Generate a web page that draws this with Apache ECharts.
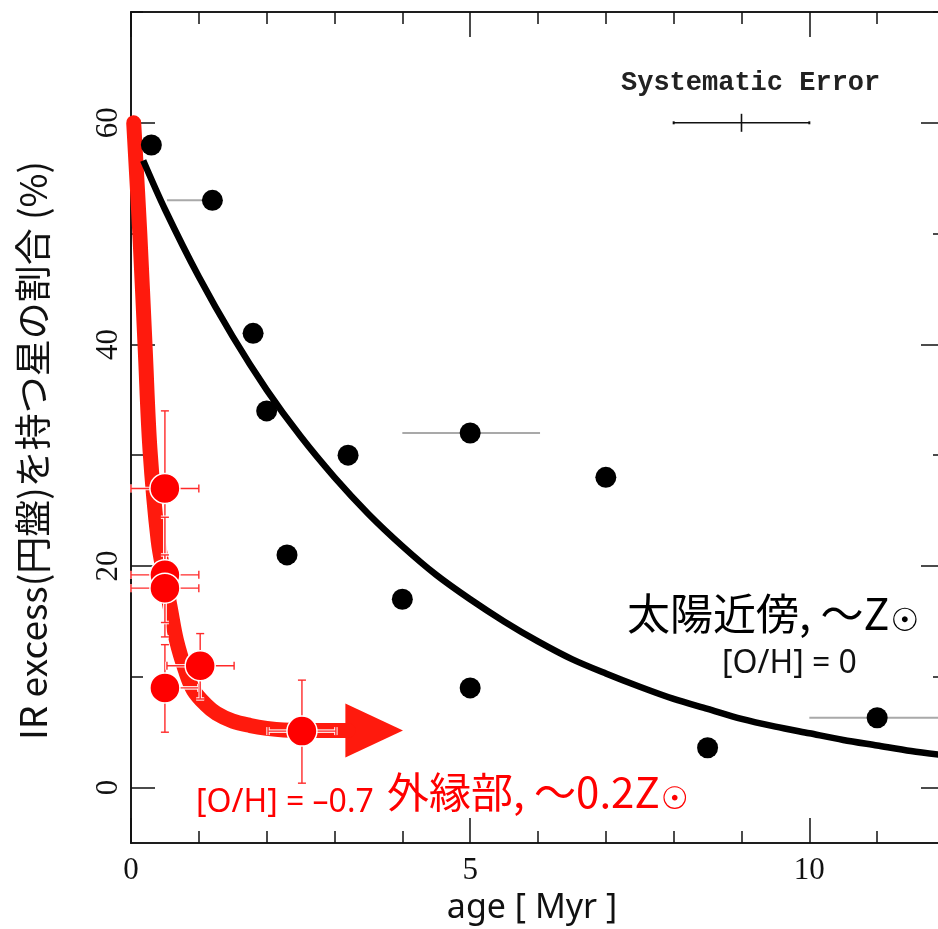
<!DOCTYPE html>
<html>
<head>
<meta charset="utf-8">
<script src="https://cdn.jsdelivr.net/npm/echarts@6/dist/echarts.min.js"></script>
<style>html,body{margin:0;padding:0;background:#fff}#c{width:938px;height:929px}</style>
</head>
<body>
<div id="c"></div>
<script>
// ---- data ----
const xMajorTicks = [0, 5, 10];
const xMinorTicks = [1, 2, 3, 4, 6, 7, 8, 9, 11];
const yMajorTicks = [0, 20, 40, 60];
const yMinorTicks = [10, 30, 50, 70];

// solar-neighbourhood clusters (black)
const blackX = [0.3, 1.2, 1.8, 2.0, 3.2, 2.3, 4.0, 5.0, 7.0, 5.0, 8.5, 11.0];
const blackY = [58, 53, 41, 34, 30, 21, 17, 32, 28, 9, 3.6, 6.3];
const blackXLow  = [0.3, 0.53, 1.8, 2.0, 3.2, 2.3, 4.0, 4.0, 7.0, 5.0, 8.5, 10.0];
const blackXHigh = [0.3, 1.2, 1.8, 2.0, 3.2, 2.3, 4.0, 6.03, 7.0, 5.0, 8.5, 12.0];

// black fitted curve
const blackCurveX = [0.18, 0.5, 1, 1.5, 2, 2.5, 3, 3.5, 4, 4.5, 5, 5.5, 6, 6.5, 7, 7.5, 8, 8.5, 9, 9.5, 10, 10.5, 11, 11.5, 12];
const blackCurveY = [56.6, 52.2, 46.1, 40.7, 35.9, 31.7, 28.0, 24.7, 21.8, 19.2, 17.0, 15.0, 13.2, 11.6, 10.3, 9.1, 8.0, 7.1, 6.2, 5.5, 4.9, 4.3, 3.8, 3.3, 2.9];

// outer-galaxy clusters (red)
const redX = [0.5, 0.5, 0.5, 0.5, 1.02, 2.52];
const redY = [27.0, 19.2, 18.0, 9.0, 11.0, 5.1];
const redXLow  = [0.0, 0.0, 0.0, 0.5, 0.53, 2.02];
const redXHigh = [1.0, 1.0, 1.0, 1.0, 1.52, 3.02];
const redYLow  = [20.0, 13.6, 14.9, 5.0, 8.0, 0.4];
const redYHigh = [34.0, 24.4, 21.0, 12.9, 13.9, 9.7];

// red curve
const redCurveX = [0.04, 0.13, 0.21, 0.28, 0.40, 0.50, 0.58, 0.67, 0.80, 0.92, 1.1, 1.26, 1.5, 1.76, 2.0, 2.25, 2.7, 3.2];
const redCurveY = [60, 50, 39.5, 30.5, 22.3, 18.8, 16.2, 13.3, 10.6, 8.8, 7.5, 6.7, 6.0, 5.6, 5.35, 5.2, 5.15, 5.15];
const arrowBaseX = 3.16, arrowTipX = 4.01, arrowY = 5.15;

// systematic error bar
const sysX = [9], sysY = [60], sysXLow = [8], sysXHigh = [10];

const xMin = 0, xMax = 12, yMin = -5, yMax = 70;

// ---- chart ----
const zip = (a, b) => a.map((v, i) => [v, b[i]]);
const chart = echarts.init(document.getElementById('c'), null, {renderer: 'canvas'});

const tickFont = {fontFamily: 'Liberation Serif', fontSize: 31, color: '#111'};
const spine = {show: true, onZero: false, lineStyle: {color: '#111', width: 1.6}};
function xAx(pos, ticks, len, labels, extra) {
  return Object.assign({
    type: 'value', position: pos, min: xMin, max: xMax,
    axisLine: spine, splitLine: {show: false},
    axisTick: {show: true, inside: true, length: len, customValues: ticks, lineStyle: {color: '#111', width: 1.5}},
    axisLabel: labels ? Object.assign({show: true, customValues: ticks, margin: 12}, tickFont) : {show: false}
  }, extra || {});
}
function yAx(pos, ticks, len, labels, extra) {
  return Object.assign({
    type: 'value', position: pos, min: yMin, max: yMax,
    axisLine: spine, splitLine: {show: false},
    axisTick: {show: true, inside: true, length: len, customValues: ticks, lineStyle: {color: '#111', width: 1.5}},
    axisLabel: labels ? Object.assign({show: true, customValues: ticks, rotate: 90, margin: 7}, tickFont) : {show: false}
  }, extra || {});
}

function errorBars(color, under, lw, cap) {
  return function (params, api) {
    const x = api.value(0), y = api.value(1);
    const xl = api.value(2), xh = api.value(3), yl = api.value(4), yh = api.value(5);
    const c = api.coord([x, y]);
    const pl = api.coord([xl, y]), ph = api.coord([xh, y]);
    const ql = api.coord([x, yl]), qh = api.coord([x, yh]);
    const segs = [];
    if (xl < x) { segs.push([pl, c]); if (cap) segs.push([[pl[0], pl[1] - cap], [pl[0], pl[1] + cap]]); }
    if (xh > x) { segs.push([c, ph]); if (cap) segs.push([[ph[0], ph[1] - cap], [ph[0], ph[1] + cap]]); }
    if (yl < y) { segs.push([c, ql]); if (cap) segs.push([[ql[0] - cap, ql[1]], [ql[0] + cap, ql[1]]]); }
    if (yh > y) { segs.push([c, qh]); if (cap) segs.push([[qh[0] - cap, qh[1]], [qh[0] + cap, qh[1]]]); }
    const children = [];
    if (under) segs.forEach(s => children.push({type: 'line', shape: {x1: s[0][0], y1: s[0][1], x2: s[1][0], y2: s[1][1]}, style: {stroke: under, lineWidth: lw + 2.2}}));
    segs.forEach(s => children.push({type: 'line', shape: {x1: s[0][0], y1: s[0][1], x2: s[1][0], y2: s[1][1]}, style: {stroke: color, lineWidth: lw}}));
    return {type: 'group', children};
  };
}

const option = {
  backgroundColor: '#fff',
  animation: false,
  grid: {left: 131, width: 814, top: 12, height: 831, containLabel: false, outerBoundsMode: 'none'},
  xAxis: [
    xAx('bottom', xMajorTicks, 25, true, {
      name: 'age [ Myr ]', nameLocation: 'middle', nameGap: 44,
      nameTextStyle: {fontFamily: 'Noto Sans', fontSize: 34, color: '#111', padding: [0, 12, 0, 0]}
    }),
    xAx('bottom', xMinorTicks, 12, false),
    xAx('top', xMajorTicks, 25, false),
    xAx('top', xMinorTicks, 12, false)
  ],
  yAxis: [
    yAx('left', yMajorTicks, 24, true, {
      name: 'IR excess(円盤)を持つ星の割合 (%)', nameLocation: 'middle', nameRotate: 90, nameGap: 80,
      nameTextStyle: {fontFamily: 'Noto Sans CJK JP', fontSize: 37, color: '#111', padding: [0, 46, 0, 0]}
    }),
    yAx('left', yMinorTicks, 12, false),
    yAx('right', yMajorTicks, 24, false),
    yAx('right', yMinorTicks, 12, false)
  ],
  series: [
    {
      type: 'line', name: 'redCurve', data: zip(redCurveX, redCurveY), smooth: 0.35,
      showSymbol: false, symbol: 'none', z: 2,
      lineStyle: {color: '#ff1a0d', width: 15, cap: 'round', join: 'round'}
    },
    {
      type: 'custom', name: 'arrow', coordinateSystem: 'cartesian2d', z: 2,
      data: [[arrowBaseX, arrowY, arrowTipX]],
      encode: {x: [0, 2], y: 1},
      renderItem: function (params, api) {
        const b = api.coord([api.value(0), api.value(1)]);
        const t = api.coord([api.value(2), api.value(1)]);
        return {type: 'polygon', shape: {points: [[b[0], b[1] - 27], [t[0], t[1]], [b[0], b[1] + 27]]}, style: {fill: '#ff1a0d'}};
      }
    },
    {
      type: 'line', name: 'blackCurve', data: zip(blackCurveX, blackCurveY), smooth: 0.3,
      showSymbol: false, symbol: 'none', z: 3,
      lineStyle: {color: '#000', width: 6.5, cap: 'butt'}
    },
    {
      type: 'custom', name: 'blackErr', coordinateSystem: 'cartesian2d', z: 3,
      data: blackX.map((v, i) => [v, blackY[i], blackXLow[i], blackXHigh[i], blackY[i], blackY[i]]),
      encode: {x: [0, 2, 3], y: [1, 4, 5]},
      renderItem: errorBars('#a9a9a9', null, 2, 0)
    },
    {
      type: 'scatter', name: 'solar', data: zip(blackX, blackY), symbolSize: 21, z: 4,
      itemStyle: {color: '#000', opacity: 1}
    },
    {
      type: 'custom', name: 'redErr', coordinateSystem: 'cartesian2d', z: 5,
      data: redX.map((v, i) => [v, redY[i], redXLow[i], redXHigh[i], redYLow[i], redYHigh[i]]),
      encode: {x: [0, 2, 3], y: [1, 4, 5]},
      renderItem: errorBars('#ff2a2a', 'rgba(255,255,255,0.85)', 1.4, 4)
    },
    {
      type: 'scatter', name: 'outer', data: zip(redX, redY), symbolSize: 30, z: 6,
      itemStyle: {color: '#ff0000', borderColor: '#fff', borderWidth: 1.5, opacity: 1}
    },
    {
      type: 'custom', name: 'sysErr', coordinateSystem: 'cartesian2d', z: 6,
      data: sysX.map((v, i) => [v, sysY[i], sysXLow[i], sysXHigh[i]]),
      encode: {x: [0, 2, 3], y: 1},
      renderItem: function (params, api) {
        const c = api.coord([api.value(0), api.value(1)]);
        const l = api.coord([api.value(2), api.value(1)]);
        const h = api.coord([api.value(3), api.value(1)]);
        const st = {stroke: '#111', lineWidth: 1.6};
        return {type: 'group', children: [
          {type: 'line', shape: {x1: l[0], y1: l[1], x2: h[0], y2: h[1]}, style: st},
          {type: 'line', shape: {x1: c[0], y1: c[1] - 9, x2: c[0], y2: c[1] + 9}, style: st},
          {type: 'line', shape: {x1: l[0], y1: l[1] - 1.5, x2: l[0], y2: l[1] + 1.5}, style: {stroke: '#111', lineWidth: 2}},
          {type: 'line', shape: {x1: h[0], y1: h[1] - 1.5, x2: h[0], y2: h[1] + 1.5}, style: {stroke: '#111', lineWidth: 2}}
        ]};
      }
    }
  ],
  graphic: [
    {type: 'text', left: 621, top: 70, z: 10, style: {text: 'Systematic Error', font: 'bold 27px "Liberation Mono"', fill: '#222'}},
    {type: 'text', left: 627, top: 592, z: 10, style: {
      text: '{a|太陽近傍, ～Z}{s|☉}',
      rich: {
        a: {fontFamily: 'Noto Sans CJK JP', fontSize: 43, fill: '#000', lineHeight: 50},
        s: {fontFamily: 'DejaVu Sans', fontSize: 32, fill: '#000', verticalAlign: 'bottom', lineHeight: 30, padding: [14, 0, 0, 1]}
      }
    }},
    {type: 'text', left: 722, top: 648, z: 10, style: {text: '[O/H] = 0', font: '32px "Noto Sans"', fill: '#111'}},
    {type: 'text', left: 196, top: 787, z: 10, style: {text: '[O/H] = \u20130.7', font: '32px "Noto Sans"', fill: '#ff0000'}},
    {type: 'text', left: 387, top: 771, z: 10, style: {
      text: '{a|外縁部, ～0.2Z}{s|☉}',
      rich: {
        a: {fontFamily: 'Noto Sans CJK JP', fontSize: 42, fill: '#ff0000', lineHeight: 48},
        s: {fontFamily: 'DejaVu Sans', fontSize: 31, fill: '#ff0000', verticalAlign: 'bottom', lineHeight: 28, padding: [14, 0, 0, 1]}
      }
    }}
  ]
};
chart.setOption(option);
</script>
</body>
</html>
